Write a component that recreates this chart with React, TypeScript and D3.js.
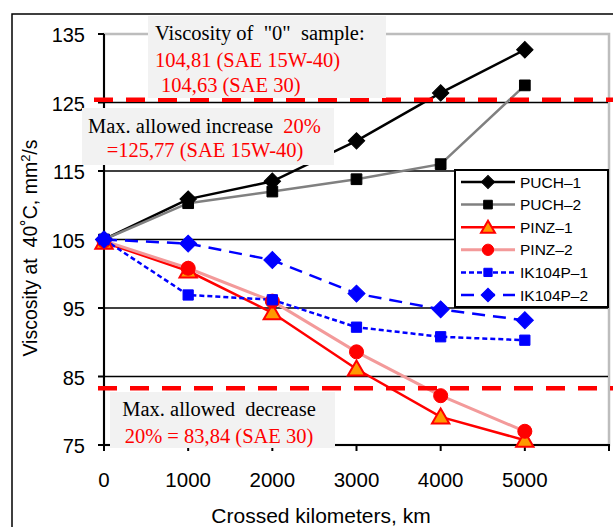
import React from "react";
import * as d3 from "d3";

const km = [0, 1000, 2000, 3000, 4000, 5000];
const seriesNames = ["PUCH–1", "PUCH–2", "PINZ–1", "PINZ–2", "IK104P–1", "IK104P–2"];
const puch1 = [105, 110.9, 113.5, 119.4, 126.4, 132.7];
const puch2 = [105, 110.3, 112.0, 113.8, 116.0, 127.5];
const pinz1 = [104.6, 100.4, 94.3, 86.1, 79.1, 75.7];
const pinz2 = [104.8, 100.8, 96.0, 88.6, 82.2, 77.0];
const ik1 = [105, 96.9, 96.2, 92.2, 90.8, 90.3];
const ik2 = [105, 104.4, 102.0, 97.1, 94.8, 93.2];
const yTicks = [75, 85, 95, 105, 115, 125, 135];
const xTicks = [0, 1000, 2000, 3000, 4000, 5000, 6000];
const xTickLabels = ["0", "1000", "2000", "3000", "4000", "5000"];
const limitLines = [125.4, 83.3];

type Style = {
  color: string;
  width: number;
  dash?: string;
  marker: "diamond" | "square" | "triangle" | "circle";
  mSize: number;
  mFill: string;
  mStroke: string;
};

const styles: Style[] = [
  { color: "#000000", width: 2.5, marker: "diamond", mSize: 135, mFill: "#000", mStroke: "#000" },
  { color: "#808080", width: 2.5, marker: "square", mSize: 115, mFill: "#000", mStroke: "#000" },
  { color: "#ff0000", width: 2.5, marker: "triangle", mSize: 130, mFill: "#ff9900", mStroke: "#ff0000" },
  { color: "#f39a9a", width: 3, marker: "circle", mSize: 155, mFill: "#ff0000", mStroke: "#ff0000" },
  { color: "#0000ff", width: 2.5, dash: "5,3", marker: "square", mSize: 105, mFill: "#0000ff", mStroke: "#0000ff" },
  { color: "#0000ff", width: 2.5, dash: "13,8", marker: "diamond", mSize: 145, mFill: "#0000ff", mStroke: "#0000ff" },
];

const allSeries = [puch1, puch2, pinz1, pinz2, ik1, ik2];

const W = 613;
const H = 527;
const x = d3.scaleLinear().domain([0, 6000]).range([104, 609]);
const y = d3.scaleLinear().domain([75, 135]).range([445, 34]);

function markerPath(s: Style, scale = 1) {
  const type =
    s.marker === "diamond" || s.marker === "square"
      ? d3.symbolSquare
      : s.marker === "triangle"
      ? d3.symbolTriangle
      : d3.symbolCircle;
  return d3.symbol().type(type).size(s.mSize * scale)() as string;
}

function Marker({ s, cx, cy, scale = 1 }: { s: Style; cx: number; cy: number; scale?: number }) {
  const rot = s.marker === "diamond" ? 45 : 0;
  const dy = s.marker === "triangle" ? 1.5 : 0;
  return (
    <path
      d={markerPath(s, scale)}
      transform={`translate(${cx},${cy + dy}) rotate(${rot})`}
      fill={s.mFill}
      stroke={s.mStroke}
      strokeWidth={s.marker === "triangle" ? 2 : 1}
    />
  );
}

export default function App() {
  const line = d3
    .line<number>()
    .x((_, i) => x(km[i]))
    .y((d) => y(d));
  const serif = "'Liberation Serif', 'Times New Roman', serif";
  const sans = "'Liberation Sans', Arial, sans-serif";
  const fs = 20.5;
  return (
    <svg
      width={W}
      height={H}
      style={{ position: "absolute", left: 0, top: 0, background: "#fff" }}
    >
      {/* outer frame */}
      <rect x={12} y={14} width={640} height={560} fill="#fff" stroke="#000" strokeWidth={1.5} />
      {/* plot border */}
      <rect x={104} y={34} width={505} height={411} fill="#fff" stroke="#bdbdbd" strokeWidth={2.5} />
      {/* gridlines */}
      {yTicks
        .filter((t) => t > 75 && t < 135)
        .map((t) => (
          <line key={t} x1={104} x2={608} y1={y(t)} y2={y(t)} stroke="#000" strokeWidth={1.5} />
        ))}
      {/* axes */}
      <line x1={104} x2={104} y1={34} y2={446} stroke="#000" strokeWidth={2} />
      <line x1={103} x2={610} y1={445} y2={445} stroke="#000" strokeWidth={2} />
      {yTicks.map((t) => (
        <g key={t}>
          <line x1={98} x2={104} y1={y(t)} y2={y(t)} stroke="#000" strokeWidth={2} />
          <text
            x={85}
            y={y(t) + 8}
            textAnchor="end"
            fontFamily={sans}
            fontSize={20}
            fill="#000"
          >
            {t}
          </text>
        </g>
      ))}
      {xTicks.map((t) => (
        <line key={t} x1={x(t)} x2={x(t)} y1={445} y2={451} stroke="#000" strokeWidth={2} />
      ))}
      {xTickLabels.map((l, i) => (
        <text
          key={l}
          x={x(xTicks[i])}
          y={487}
          textAnchor="middle"
          fontFamily={sans}
          fontSize={20.5}
          fill="#000"
        >
          {l}
        </text>
      ))}
      <text x={321} y={523} textAnchor="middle" fontFamily={sans} fontSize={21} fill="#000">
        Crossed kilometers, km
      </text>
      <text
        transform="translate(37,248) rotate(-90)"
        textAnchor="middle"
        fontFamily={sans}
        fontSize={19.5}
        fill="#000"
        xmlSpace="preserve"
      >
        Viscosity at  40˚C, mm<tspan fontSize={13} dy={-7}>2</tspan>
        <tspan dy={7}>/s</tspan>
      </text>

      {/* series */}
      {allSeries.map((vals, si) => (
        <g key={si}>
          <path
            d={line(vals) as string}
            fill="none"
            stroke={styles[si].color}
            strokeWidth={styles[si].width}
            strokeDasharray={styles[si].dash}
          />
        </g>
      ))}
      {allSeries.map((vals, si) => (
        <g key={"m" + si}>
          {vals.map((v, i) => (
            <Marker key={i} s={styles[si]} cx={x(km[i])} cy={y(v)} />
          ))}
        </g>
      ))}

      {/* limit lines */}
      <line
        x1={94}
        x2={620}
        y1={y(limitLines[0])}
        y2={y(limitLines[0])}
        stroke="#ff0000"
        strokeWidth={4.5}
        strokeDasharray="19,13"
      />
      <line
        x1={98}
        x2={620}
        y1={y(limitLines[1])}
        y2={y(limitLines[1])}
        stroke="#ff0000"
        strokeWidth={4.5}
        strokeDasharray="19,13"
      />

      {/* annotation boxes */}
      <rect x={148} y={16} width={238} height={82} fill="#f2f2f2" />
      <text x={155} y={40} fontFamily={serif} fontSize={fs} fill="#000" xmlSpace="preserve">
        Viscosity of  "0"  sample:
      </text>
      <text x={155} y={67} fontFamily={serif} fontSize={fs} fill="#ff0000">
        104,81 (SAE 15W-40)
      </text>
      <text x={161} y={92} fontFamily={serif} fontSize={fs} fill="#ff0000">
        104,63 (SAE 30)
      </text>

      <rect x={82} y={108} width={252} height={57} fill="#f2f2f2" />
      <text x={88} y={133} fontFamily={serif} fontSize={fs} fill="#000" xmlSpace="preserve">
        Max. allowed increase  <tspan fill="#ff0000">20%</tspan>
      </text>
      <text x={205} y={157} textAnchor="middle" fontFamily={serif} fontSize={fs} fill="#ff0000">
        =125,77 (SAE 15W-40)
      </text>

      <rect x={110} y={392} width={225} height={56} fill="#f2f2f2" />
      <text x={219} y={416} textAnchor="middle" fontFamily={serif} fontSize={fs} fill="#000" xmlSpace="preserve">
        Max. allowed  decrease
      </text>
      <text x={219} y={443} textAnchor="middle" fontFamily={serif} fontSize={fs} fill="#ff0000">
        20% = 83,84 (SAE 30)
      </text>

      {/* legend */}
      <rect x={455} y={170} width={153} height={137} fill="#fff" stroke="#000" strokeWidth={2} />
      {seriesNames.map((n, i) => {
        const ly = 182 + i * 22.6;
        const s = styles[i];
        return (
          <g key={n}>
            <line
              x1={461}
              x2={515}
              y1={ly}
              y2={ly}
              stroke={s.color}
              strokeWidth={s.width}
              strokeDasharray={s.dash}
            />
            <Marker s={s} cx={488} cy={ly} scale={0.65} />
            <text x={520} y={ly} dy="0.36em" fontFamily={sans} fontSize={15.5} fill="#000">
              {n}
            </text>
          </g>
        );
      })}
    </svg>
  );
}
